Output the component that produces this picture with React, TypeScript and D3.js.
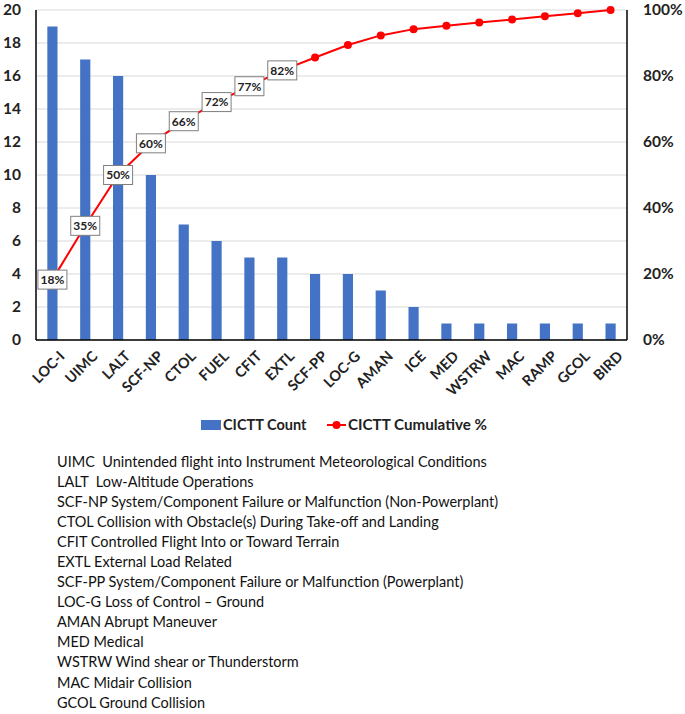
import React from "react";
import * as d3 from "d3";

const categories = ["LOC-I", "UIMC", "LALT", "SCF-NP", "CTOL", "FUEL", "CFIT", "EXTL", "SCF-PP", "LOC-G", "AMAN", "ICE", "MED", "WSTRW", "MAC", "RAMP", "GCOL", "BIRD"];
const counts = [19, 17, 16, 10, 7, 6, 5, 5, 4, 4, 3, 2, 1, 1, 1, 1, 1, 1];
const cumulativePct = [18.3, 34.6, 50.0, 59.6, 66.3, 72.1, 76.9, 81.7, 85.6, 89.4, 92.3, 94.2, 95.2, 96.2, 97.1, 98.1, 99.0, 100];
const pointLabels = ["18%", "35%", "50%", "60%", "66%", "72%", "77%", "82%"];
const leftTicks = [0, 2, 4, 6, 8, 10, 12, 14, 16, 18, 20];
const rightTicks = [0, 20, 40, 60, 80, 100];
const notes = [
  "UIMC  Unintended flight into Instrument Meteorological Conditions",
  "LALT  Low-Altitude Operations",
  "SCF-NP System/Component Failure or Malfunction (Non-Powerplant)",
  "CTOL Collision with Obstacle(s) During Take-off and Landing",
  "CFIT Controlled Flight Into or Toward Terrain",
  "EXTL External Load Related",
  "SCF-PP System/Component Failure or Malfunction (Powerplant)",
  "LOC-G Loss of Control \u2013 Ground",
  "AMAN Abrupt Maneuver",
  "MED Medical",
  "WSTRW Wind shear or Thunderstorm",
  "MAC Midair Collision",
  "GCOL Ground Collision",
];

const FONT = "Lato, 'Open Sans', sans-serif";

export default function App() {
  const W = 685, H = 714;
  const left = 36, right = 627, top = 10, bottom = 340;
  const x = d3.scaleBand<string>().domain(categories).range([left, right]).paddingInner(0.69).paddingOuter(0.345);
  const y = d3.scaleLinear().domain([0, 20]).range([bottom, top]);
  const yp = d3.scaleLinear().domain([0, 100]).range([bottom, top]);
  const cx = (c: string) => (x(c) as number) + x.bandwidth() / 2;
  const line = d3.line<number>().x((_, i) => cx(categories[i])).y((d) => yp(d));

  return (
    <svg width={W} height={H} style={{ position: "absolute", left: 0, top: 0 }} fontFamily={FONT}>
      <rect x={0} y={0} width={W} height={H} fill="#fff" />
      {leftTicks.map((t) => (
        <line key={"g" + t} x1={left} x2={right} y1={y(t)} y2={y(t)} stroke="#d9d9d9" strokeWidth={1} />
      ))}
      {categories.map((c, i) => (
        <rect key={c} x={x(c)} y={y(counts[i])} width={x.bandwidth()} height={bottom - y(counts[i])} fill="#4472C4" />
      ))}
      <line x1={left} x2={left} y1={top} y2={bottom} stroke="#000" strokeWidth={1.5} />
      <line x1={right} x2={right} y1={top} y2={bottom} stroke="#000" strokeWidth={1.5} />
      <line x1={left} x2={right} y1={bottom} y2={bottom} stroke="#000" strokeWidth={1.5} />
      {leftTicks.map((t) => (
        <text key={"l" + t} x={21} y={y(t)} dy="0.35em" textAnchor="end" fontSize={15.5} fontWeight="bold" fill="#222">{t}</text>
      ))}
      {rightTicks.map((t) => (
        <text key={"r" + t} x={643} y={yp(t)} dy="0.35em" textAnchor="start" fontSize={15.5} fontWeight="bold" fill="#222">{t}%</text>
      ))}
      {categories.map((c) => (
        <text key={"x" + c} transform={`translate(${cx(c) + 6},${bottom + 10}) rotate(-45)`} textAnchor="end" dy="0.7em" fontSize={14.5} fontWeight="bold" fill="#222">{c}</text>
      ))}
      <path d={line(cumulativePct) as string} fill="none" stroke="#FF0000" strokeWidth={2} />
      {cumulativePct.map((p, i) => (
        <circle key={"p" + i} cx={cx(categories[i])} cy={yp(p)} r={4} fill="#FF0000" />
      ))}
      {pointLabels.map((lab, i) => {
        const px = cx(categories[i]);
        const py = yp(cumulativePct[i]);
        return (
          <g key={"lab" + i}>
            <rect x={px - 14.5} y={py - 9.5} width={29} height={19} fill="#fff" stroke="#7f7f7f" strokeWidth={1} />
            <text x={px} y={py} dy="0.36em" textAnchor="middle" fontSize={12} fontWeight="bold" fill="#222">{lab}</text>
          </g>
        );
      })}
      <g>
        <rect x={201} y={420} width={20} height={10} fill="#4472C4" />
        <text x={223} y={425} dy="0.36em" fontSize={14.5} fontWeight="bold" fill="#222">CICTT Count</text>
        <line x1={327} x2={346} y1={425} y2={425} stroke="#FF0000" strokeWidth={2} />
        <circle cx={336.5} cy={425} r={4} fill="#FF0000" />
        <text x={348} y={425} dy="0.36em" fontSize={14.5} fontWeight="bold" fill="#222" textLength={139} lengthAdjust="spacingAndGlyphs">CICTT Cumulative %</text>
      </g>
      <g transform="translate(57,0) scale(0.935,1)">
        {notes.map((n, i) => (
          <text key={"n" + i} x={0} y={467 + i * 20.05} fontSize={15.5} fill="#111" style={{ whiteSpace: "pre" }}>{n}</text>
        ))}
      </g>
    </svg>
  );
}
